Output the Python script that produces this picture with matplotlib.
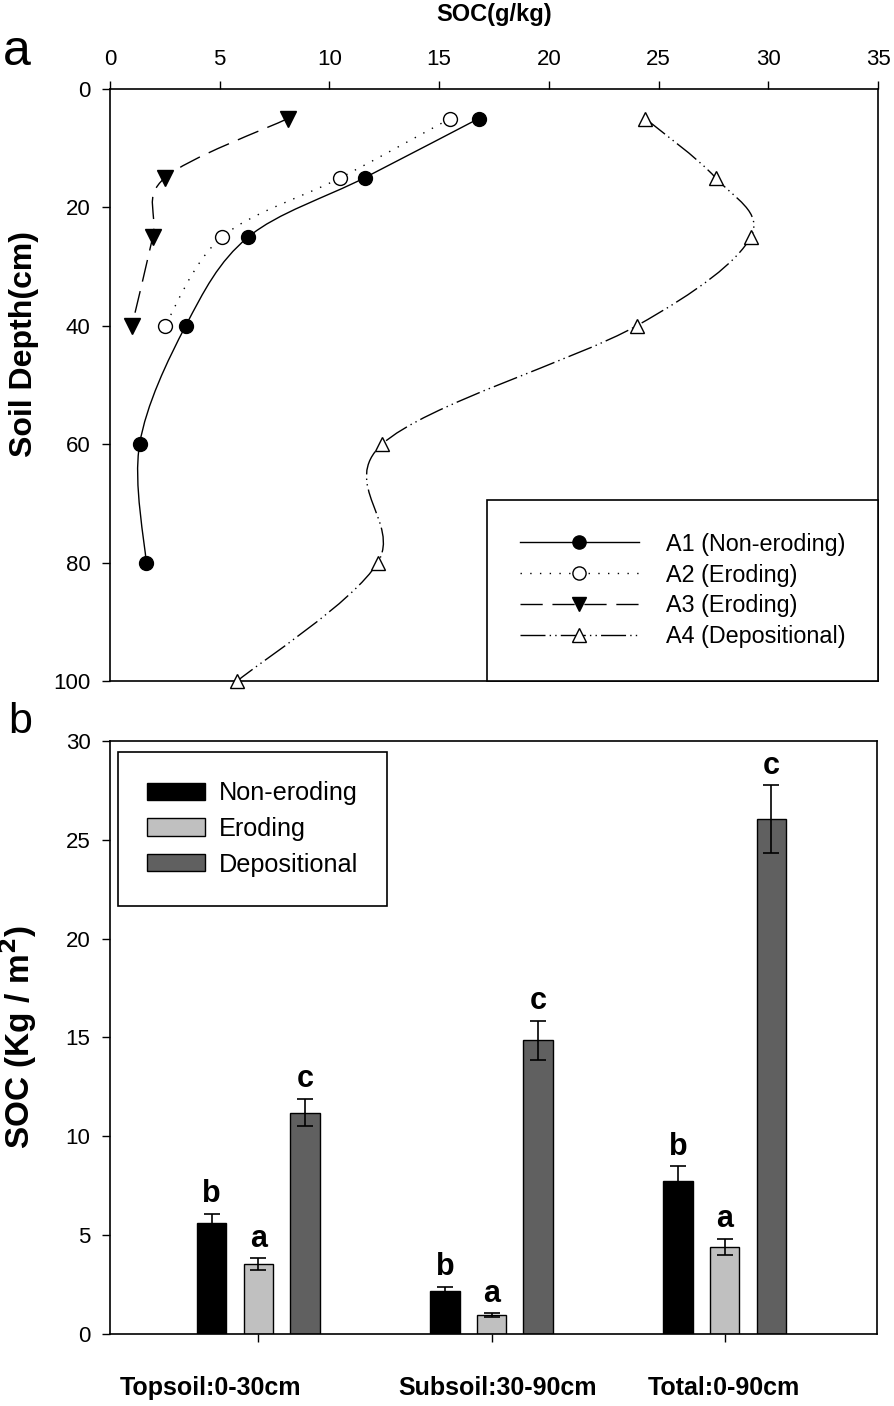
import matplotlib
matplotlib.use("Agg")
import matplotlib.pyplot as plt
import numpy as np
from matplotlib.path import Path
from matplotlib.patches import PathPatch
from matplotlib.lines import Line2D
import matplotlib.transforms as mtransforms

plt.rcParams["font.family"] = ["Liberation Sans", "DejaVu Sans"]

# ---- panel a: SOC profiles (g/kg) by depth (cm)
depth_a1 = [5, 15, 25, 40, 60, 80]
soc_a1 = [16.8, 11.6, 6.3, 3.45, 1.35, 1.65]
depth_a2 = [5, 15, 25, 40]
soc_a2 = [15.5, 10.5, 5.1, 2.5]
depth_a3 = [5, 15, 25, 40]
soc_a3 = [8.1, 2.5, 1.95, 1.0]
depth_a4 = [5, 15, 25, 40, 60, 80, 100]
soc_a4 = [24.4, 27.6, 29.2, 24.0, 12.4, 12.2, 5.8]
profile_names = ["A1 (Non-eroding)", "A2 (Eroding)", "A3 (Eroding)", "A4 (Depositional)"]

# ---- panel b: SOC stocks (kg/m2)
layers = ["Topsoil:0-30cm", "Subsoil:30-90cm", "Total:0-90cm"]
groups = ["Non-eroding", "Eroding", "Depositional"]
soc_nonerod = [5.62, 2.19, 7.76]
err_nonerod = [0.47, 0.20, 0.72]
soc_erod = [3.52, 0.94, 4.41]
err_erod = [0.30, 0.10, 0.41]
soc_depos = [11.2, 14.85, 26.05]
err_depos = [0.70, 1.00, 1.70]
letters_nonerod = ["b", "b", "b"]
letters_erod = ["a", "a", "a"]
letters_depos = ["c", "c", "c"]


def smooth_path(x, y):
    """Catmull-Rom spline through the points, as a cubic bezier path."""
    pts = np.column_stack([x, y]).astype(float)
    n = len(pts)
    verts = [pts[0]]
    codes = [Path.MOVETO]
    for i in range(n - 1):
        p0 = pts[i - 1] if i > 0 else pts[i]
        p1 = pts[i]
        p2 = pts[i + 1]
        p3 = pts[i + 2] if i + 2 < n else pts[i + 1]
        verts += [p1 + (p2 - p0) / 6.0, p2 - (p3 - p1) / 6.0, p2]
        codes += [Path.CURVE4] * 3
    return Path(verts, codes)


fig = plt.figure(figsize=(8.94, 14.06), dpi=100)
ax1 = fig.add_axes([0.1230, 0.5156, 0.8591, 0.4211])
ax2 = fig.add_axes([0.1230, 0.0512, 0.8580, 0.4218])

# ---------------- panel a
styles = [
    dict(ls="-", marker="o", mfc="black", ms=10),
    dict(ls=(0, (1, 6)), marker="o", mfc="white", ms=10),
    dict(ls=(0, (16, 7)), marker="v", mfc="black", ms=11),
    dict(ls=(0, (18, 3, 1, 3, 1, 3)), marker="^", mfc="white", ms=10),
]
profiles = [(soc_a1, depth_a1), (soc_a2, depth_a2), (soc_a3, depth_a3), (soc_a4, depth_a4)]
handles = []
for (xs, ys), st, name in zip(profiles, styles, profile_names):
    ax1.add_patch(PathPatch(smooth_path(xs, ys), fill=False, ec="black",
                            lw=1.0, linestyle=st["ls"], zorder=2))
    ax1.plot(xs, ys, ls="none", marker=st["marker"], ms=st["ms"],
             mfc=st["mfc"], mec="black", mew=1.0, zorder=3, clip_on=False)
    handles.append(Line2D([], [], color="black", lw=1.0, ls=st["ls"],
                          marker=st["marker"], ms=st["ms"] * 0.95,
                          mfc=st["mfc"], mec="black", label=name))

ax1.set_xlim(0, 35)
ax1.set_ylim(100, 0)
ax1.set_xticks(np.arange(0, 36, 5))
ax1.set_yticks(np.arange(0, 101, 20))
ax1.xaxis.tick_top()
ax1.xaxis.set_label_position("top")
ax1.tick_params(axis="both", direction="out", length=6, width=1.0,
                labelsize=16, pad=8)
ax1.set_xlabel("SOC(g/kg)", fontsize=17, fontweight="bold", labelpad=20)
ax1.set_ylabel("Soil Depth(cm)", fontsize=23, fontweight="bold")
ax1.yaxis.set_label_coords(-0.092, 0.57)

leg1 = ax1.legend(handles=handles, loc="lower right", bbox_to_anchor=(1, 0),
                  borderaxespad=0, fontsize=16.8, handlelength=5.1,
                  handletextpad=1.15, labelspacing=0.34, borderpad=1.4,
                  numpoints=1, fancybox=False, framealpha=1)
leg1.get_frame().set_edgecolor("black")
leg1.get_frame().set_linewidth(1.2)

# ---------------- panel b
x = np.arange(len(layers))
offsets = [-0.2, 0.0, 0.2]
bar_w = 0.126
colors = ["#000000", "#c0c0c0", "#606060"]
series = [(soc_nonerod, err_nonerod, letters_nonerod),
          (soc_erod, err_erod, letters_erod),
          (soc_depos, err_depos, letters_depos)]
for (vals, errs, lets), off, col, name in zip(series, offsets, colors, groups):
    ax2.bar(x + off, vals, width=bar_w, color=col, edgecolor="black",
            linewidth=1.0, label=name, zorder=2)
    ax2.errorbar(x + off, vals, yerr=errs, fmt="none", ecolor="black",
                 elinewidth=1.2, capsize=6, capthick=1.2, zorder=3)
    for xi, v, e, t in zip(x + off, vals, errs, lets):
        ax2.text(xi, v + e + 0.6, t, ha="center", va="baseline",
                 fontsize=22, fontweight="bold")

ax2.set_xlim(-0.636, 2.653)
ax2.set_ylim(0, 30)
ax2.set_yticks(np.arange(0, 31, 5))
ax2.set_xticks(x)
ax2.set_xticklabels([])
ax2.tick_params(axis="both", direction="out", length=6, width=1.0,
                labelsize=16, pad=8)
ax2.tick_params(axis="x", top=False)
ax2.set_ylabel("SOC (Kg / m$^\\mathbf{2}$)", fontsize=24, fontweight="bold")
ax2.yaxis.set_label_coords(-0.092, 0.5)

# category names below the axis (first one sits left of its tick)
label_shift_px = [-48, 6, -1]
trans = mtransforms.blended_transform_factory(ax2.transData, ax2.transAxes)
for xi, name, dx in zip(x, layers, label_shift_px):
    off = mtransforms.ScaledTranslation(dx / 100.0, 0, fig.dpi_scale_trans)
    ax2.text(xi, -0.091, name, transform=trans + off, ha="center",
             va="center", fontsize=18, fontweight="bold")

leg2 = ax2.legend(loc="upper left", bbox_to_anchor=(0.0104, 0.981),
                  borderaxespad=0, fontsize=18.2, handlelength=2.3,
                  handleheight=0.67, handletextpad=0.55, labelspacing=0.46,
                  borderpad=1.15, fancybox=False, framealpha=1)
leg2.get_frame().set_edgecolor("black")
leg2.get_frame().set_linewidth(1.2)

for ax in (ax1, ax2):
    for sp in ax.spines.values():
        sp.set_linewidth(1.2)

fig.text(17 / 894, 1 - 52 / 1406, "a", fontsize=36, ha="center", va="center")
fig.text(20 / 894, 1 - 722 / 1406, "b", fontsize=31, ha="center", va="center")

fig.savefig("out.png", dpi=100)
